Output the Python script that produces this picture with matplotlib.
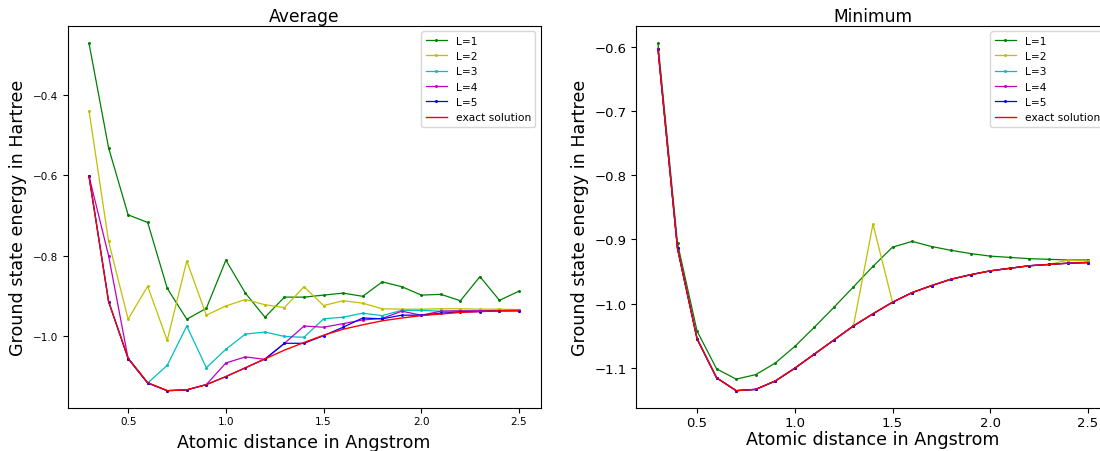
import matplotlib
matplotlib.use("Agg")
import matplotlib.pyplot as plt

distances = [0.3, 0.4, 0.5, 0.6, 0.7, 0.8, 0.9, 1.0, 1.1, 1.2, 1.3, 1.4,
             1.5, 1.6, 1.7, 1.8, 1.9, 2.0, 2.1, 2.2, 2.3, 2.4, 2.5]

exact = [-0.602, -0.914, -1.055, -1.116, -1.136, -1.134, -1.121, -1.101, -1.079,
         -1.057, -1.035, -1.016, -0.998, -0.983, -0.972, -0.962, -0.955, -0.949,
         -0.945, -0.941, -0.939, -0.937, -0.936]

avg_L1 = [-0.271, -0.531, -0.698, -0.717, -0.881, -0.958, -0.931, -0.811, -0.893,
          -0.953, -0.903, -0.903, -0.898, -0.893, -0.901, -0.865, -0.877, -0.898,
          -0.896, -0.912, -0.852, -0.911, -0.888]
avg_L2 = [-0.439, -0.764, -0.958, -0.876, -1.011, -0.813, -0.948, -0.925, -0.909,
          -0.922, -0.929, -0.877, -0.924, -0.912, -0.918, -0.932, -0.933, -0.933,
          -0.932, -0.932, -0.933, -0.933, -0.934]
avg_L3 = [-0.602, -0.914, -1.056, -1.117, -1.073, -0.975, -1.079, -1.033, -0.995,
          -0.990, -1.001, -1.003, -0.957, -0.953, -0.943, -0.949, -0.936, -0.936,
          -0.938, -0.938, -0.937, -0.936, -0.936]
avg_L4 = [-0.602, -0.800, -1.056, -1.117, -1.136, -1.134, -1.121, -1.067, -1.052,
          -1.058, -1.018, -0.975, -0.978, -0.969, -0.960, -0.956, -0.938, -0.948,
          -0.938, -0.937, -0.937, -0.937, -0.937]
avg_L5 = [-0.602, -0.914, -1.056, -1.117, -1.136, -1.134, -1.121, -1.101, -1.079,
          -1.057, -1.018, -1.018, -0.999, -0.978, -0.955, -0.957, -0.948, -0.948,
          -0.943, -0.940, -0.939, -0.937, -0.937]

min_L1 = [-0.594, -0.906, -1.043, -1.102, -1.118, -1.111, -1.093, -1.067, -1.037,
          -1.006, -0.974, -0.942, -0.912, -0.903, -0.911, -0.917, -0.922, -0.926,
          -0.928, -0.930, -0.931, -0.932, -0.932]
min_L2 = [-0.602, -0.914, -1.055, -1.116, -1.136, -1.134, -1.121, -1.101, -1.079,
          -1.057, -1.035, -0.876, -0.998, -0.983, -0.972, -0.962, -0.955, -0.949,
          -0.945, -0.941, -0.939, -0.932, -0.934]
min_L3 = [-0.602, -0.914, -1.055, -1.116, -1.136, -1.134, -1.121, -1.101, -1.079,
          -1.057, -1.035, -1.016, -0.998, -0.983, -0.972, -0.962, -0.955, -0.949,
          -0.945, -0.941, -0.939, -0.937, -0.936]
min_L4 = list(min_L3)
min_L5 = list(min_L3)

labels = ["L=1", "L=2", "L=3", "L=4", "L=5"]
colors = ["g", "y", "c", "m", "b"]

fig = plt.figure(figsize=(11, 4.52), dpi=100)
ax1 = fig.add_axes([0.0614, 0.0951, 0.43, 0.845])
ax2 = fig.add_axes([0.5786, 0.0951, 0.43, 0.845])

def draw(ax, series, title, tick_fs, xlabelpad):
    for vals, lab, col in zip(series, labels, colors):
        ax.plot(distances, vals, color=col, marker=".", markersize=2.3,
                linewidth=0.9, label=lab)
    ax.plot(distances, exact, color="r", linewidth=1.0, label="exact solution")
    ax.set_title(title, fontsize=12.3, pad=4)
    ax.set_xlabel("Atomic distance in Angstrom", fontsize=12.6, labelpad=xlabelpad)
    ax.set_ylabel("Ground state energy in Hartree", fontsize=12.6)
    ax.tick_params(labelsize=tick_fs)
    ax.tick_params(axis="x", pad=2.5)
    ax.set_xticks([0.5, 1.0, 1.5, 2.0, 2.5])
    ax.legend(loc="upper right", fontsize=7.7)

draw(ax1, [avg_L1, avg_L2, avg_L3, avg_L4, avg_L5], "Average", 7.5, 4.5)
draw(ax2, [min_L1, min_L2, min_L3, min_L4, min_L5], "Minimum", 9.5, 0.5)

fig.savefig("out.png", dpi=100)
